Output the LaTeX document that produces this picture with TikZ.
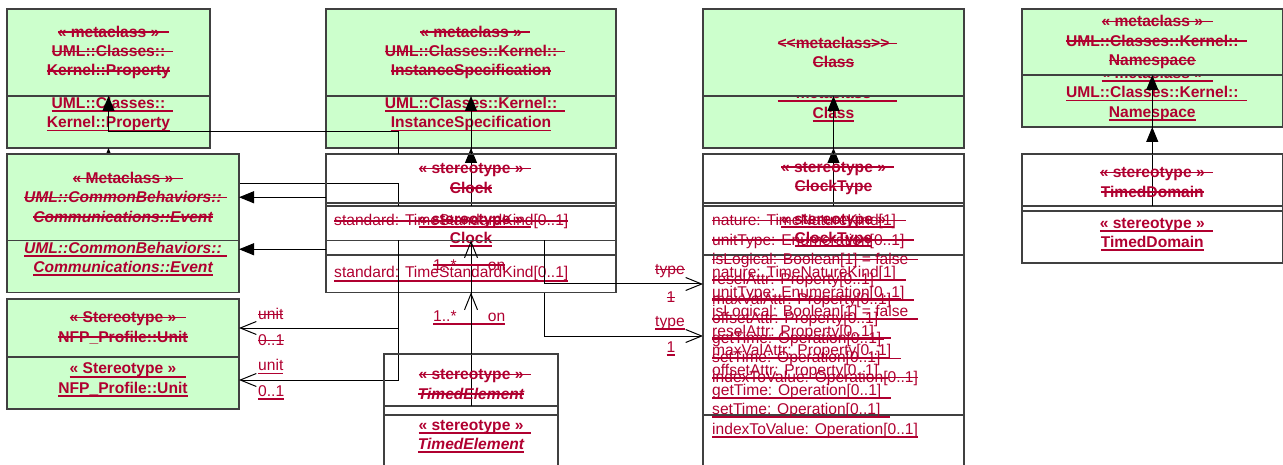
\documentclass[tikz,border=0pt]{standalone}
\usepackage{fontspec}
\setmainfont{Liberation Sans}
\usetikzlibrary{arrows.meta}
\definecolor{mgreen}{RGB}{204,255,204}
\definecolor{txtred}{RGB}{176,0,48}
\newsavebox{\lblbox}
% struck out (old) and underlined (new) text, optional extra length of the rule
\newcommand{\gone}[2][0pt]{\sbox{\lblbox}{#2}\rlap{\rule[4.4pt]{\dimexpr\wd\lblbox+#1\relax}{1.4pt}}\usebox{\lblbox}}
\newcommand{\added}[2][0pt]{\sbox{\lblbox}{#2}\rlap{\rule[-3.6pt]{\dimexpr\wd\lblbox+#1\relax}{1.8pt}}\usebox{\lblbox}}
\newcommand{\metakw}{<\kern0pt<metaclass>\kern0pt>}
\begin{document}
\begin{tikzpicture}[x=1pt,y=-1pt,
  box/.style={draw=black!75,line width=1.2pt,inner sep=0pt,outer sep=0pt,align=center,text=txtred,font=\fontsize{15.6}{19.4}\selectfont\bfseries},
  meta/.style={box,fill=mgreen},
  sep/.style={draw=black!75,line width=1.2pt},
  txt/.style={inner sep=0pt,text=txtred,font=\fontsize{15.6}{19.6}\selectfont},
  hd/.style={txt,align=center,font=\fontsize{15.6}{19.4}\selectfont\bfseries},
  ext/.style={line width=1pt,-{Triangle[length=15pt,width=12pt]}},
  assoc/.style={line width=1pt,-{Straight Barb[length=16pt,width=13pt]}}]
\useasboundingbox (0,0) rectangle (1283,465);
\clip (0,0) rectangle (1283,465);
% new version (underlined), 52 lower
\node[meta,minimum width=203pt,minimum height=87pt] (propN) at (108.5,104.5) {\added[10pt]{« metaclass »}\\\added[8pt]{UML::Classes::}\\\added{Kernel::Property}};
\node[meta,minimum width=290pt,minimum height=87pt] (instN) at (471,104.5) {\added[8pt]{« metaclass »}\\\added[8pt]{UML::Classes::Kernel::}\\\added{InstanceSpecification}};
\node[meta,minimum width=261pt,minimum height=87pt] (classN) at (833.5,104.5) {\added[8pt]{\metakw}\\\added{Class}};
\node[meta,minimum width=260.5pt,minimum height=66pt] (nsN) at (1152.25,94) {\added[10pt]{« metaclass »}\\\added[8pt]{UML::Classes::Kernel::}\\\added{Namespace}};
\node[meta,minimum width=232pt,minimum height=86.5pt] (eventN) at (123,249.25) {\added[10pt]{« Metaclass »}\\\added[5pt]{\itshape UML::CommonBehaviors::}\\\added{\itshape Communications::Event}};
\node[meta,minimum width=232pt,minimum height=58pt] (unitN) at (123,380) {\added[10pt]{« Stereotype »}\\\added{NFP\_Profile::Unit}};
\node[box,minimum width=290pt,minimum height=86.5pt] (clockN) at (471,249.25) {};
\node[box,minimum width=261pt,minimum height=326pt] (ctypeN) at (833.5,369) {};
\node[box,minimum width=260.5pt,minimum height=57pt] (domN) at (1152.25,234.5) {\added[8pt]{« stereotype »}\\\added{TimedDomain}};
\node[box,minimum width=174pt,minimum height=126pt] (elemN) at (471,469) {};
\draw[sep] ([yshift=-49pt]clockN.north west) -- ([yshift=-49pt]clockN.north east);
\draw[sep] ([yshift=-49pt]ctypeN.north west) -- ([yshift=-49pt]ctypeN.north east);
\draw[sep] ([yshift=-209pt]ctypeN.north west) -- ([yshift=-209pt]ctypeN.north east);
\draw[sep] ([yshift=-61pt]elemN.north west) -- ([yshift=-61pt]elemN.north east);
\node[hd] (clockhdN) at (471,230.5) {\added[8pt]{« stereotype »}\\\added{Clock}};
\node[txt,anchor=base west] (clockattN) at (334,278) {\added{standard: TimeStandardKind[0..1]}};
\node[hd] (ctypehdN) at (833.5,230.5) {\added[8pt]{« stereotype »}\\\added{ClockType}};
\node[txt,anchor=west,align=left] (ctypeattN) at (712,352) {\added[10pt]{nature: TimeNatureKind[1]}\\\added[10pt]{unitType: Enumeration[0..1]}\\\added[10pt]{isLogical: Boolean[1] = false}\\\added[10pt]{reselAttr: Property[0..1]}\\\added[10pt]{maxValAttr: Property[0..1]}\\\added[10pt]{offsetAttr: Property[0..1]}\\\added[10pt]{getTime: Operation[0..1]}\\\added[10pt]{setTime: Operation[0..1]}\\\added{indexToValue: Operation[0..1]}};
\node[hd] (elemhdN) at (471,436.5) {\added[8pt]{« stereotype »}\\\added{\itshape TimedElement}};
\draw[ext] (clockN.north) -- (instN.south);
\draw[ext] (ctypeN.north) -- (classN.south);
\draw[ext] (domN.north) -- (nsN.south);
\draw[ext] ([xshift=72pt]clockN.north west) -- ++(0,-22) -| (propN.south);
\draw[ext] (clockN.west) -- (eventN.east);
\draw[assoc] ([xshift=72pt]clockN.south west) |- (unitN.east);
\draw[assoc] (elemN.north) -- (clockN.south);
\draw[assoc] ([xshift=-72pt]clockN.south east) |- ([yshift=-130pt]ctypeN.north west);
\node[txt,anchor=west] (unitlabN) at (258,367) {\added{unit}};
\node[txt,anchor=west] (unitmulN) at (258,393) {\added{0..1}};
\node[txt,anchor=west] (typelabN) at (655,323) {\added{type}};
\node[txt] (typemulN) at (671,349) {\added{1}};
\node[txt,anchor=west] (onN) at (433,318) {\added{\makebox[72pt][l]{1..*\hfill on}}};
% old version (struck out), drawn on top
\node[meta,minimum width=203pt,minimum height=87pt] (propO) at (108.5,52.5) {\gone[10pt]{« metaclass »}\\\gone[8pt]{UML::Classes::}\\\gone{Kernel::Property}};
\node[meta,minimum width=290pt,minimum height=87pt] (instO) at (471,52.5) {\gone[8pt]{« metaclass »}\\\gone[8pt]{UML::Classes::Kernel::}\\\gone{InstanceSpecification}};
\node[meta,minimum width=261pt,minimum height=87pt] (classO) at (833.5,52.5) {\gone[8pt]{\metakw}\\\gone{Class}};
\node[meta,minimum width=260.5pt,minimum height=66pt] (nsO) at (1152.25,42) {\gone[10pt]{« metaclass »}\\\gone[8pt]{UML::Classes::Kernel::}\\\gone{Namespace}};
\node[meta,minimum width=232pt,minimum height=86.5pt] (eventO) at (123,197.25) {\gone[10pt]{« Metaclass »}\\\gone[5pt]{\itshape UML::CommonBehaviors::}\\\gone{\itshape Communications::Event}};
\node[meta,minimum width=232pt,minimum height=58pt] (unitO) at (123,328) {\gone[10pt]{« Stereotype »}\\\gone{NFP\_Profile::Unit}};
\node[box,minimum width=290pt,minimum height=86.5pt] (clockO) at (471,197.25) {};
\node[box,minimum width=261pt,minimum height=326pt] (ctypeO) at (833.5,317) {};
\node[box,minimum width=260.5pt,minimum height=57pt] (domO) at (1152.25,182.5) {\gone[8pt]{« stereotype »}\\\gone{TimedDomain}};
\node[box,minimum width=174pt,minimum height=126pt] (elemO) at (471,417) {};
\draw[sep] ([yshift=-49pt]clockO.north west) -- ([yshift=-49pt]clockO.north east);
\draw[sep] ([yshift=-49pt]ctypeO.north west) -- ([yshift=-49pt]ctypeO.north east);
\draw[sep] ([yshift=-61pt]elemO.north west) -- ([yshift=-61pt]elemO.north east);
\node[hd] (clockhdO) at (471,178.5) {\gone[8pt]{« stereotype »}\\\gone{Clock}};
\node[txt,anchor=base west] (clockattO) at (334,226) {\gone{standard: TimeStandardKind[0..1]}};
\node[hd] (ctypehdO) at (833.5,178.5) {\gone[8pt]{« stereotype »}\\\gone{ClockType}};
\node[txt,anchor=west,align=left] (ctypeattO) at (712,300) {\gone[10pt]{nature: TimeNatureKind[1]}\\\gone[10pt]{unitType: Enumeration[0..1]}\\\gone[10pt]{isLogical: Boolean[1] = false}\\\gone[10pt]{reselAttr: Property[0..1]}\\\gone[10pt]{maxValAttr: Property[0..1]}\\\gone[10pt]{offsetAttr: Property[0..1]}\\\gone[10pt]{getTime: Operation[0..1]}\\\gone[10pt]{setTime: Operation[0..1]}\\\gone{indexToValue: Operation[0..1]}};
\node[hd] (elemhdO) at (471,384.5) {\gone[8pt]{« stereotype »}\\\gone{\itshape TimedElement}};
\draw[ext] (clockO.north) -- (instO.south);
\draw[ext] (ctypeO.north) -- (classO.south);
\draw[ext] (domO.north) -- (nsO.south);
\draw[ext] ([xshift=72pt]clockO.north west) -- ++(0,-22) -| (propO.south);
\draw[ext] (clockO.west) -- (eventO.east);
\draw[assoc] ([xshift=72pt]clockO.south west) |- (unitO.east);
\draw[assoc] (elemO.north) -- (clockO.south);
\draw[assoc] ([xshift=-72pt]clockO.south east) |- ([yshift=-130pt]ctypeO.north west);
\node[txt,anchor=west] (unitlabO) at (258,314) {\gone{unit}};
\node[txt,anchor=west] (unitmulO) at (258,340) {\gone{0..1}};
\node[txt,anchor=west] (typelabO) at (655,271) {\gone{type}};
\node[txt] (typemulO) at (671,297) {\gone{1}};
\node[txt,anchor=west] (onO) at (433,265) {\gone{\makebox[72pt][l]{1..*\hfill on}}};
\end{tikzpicture}
\end{document}
